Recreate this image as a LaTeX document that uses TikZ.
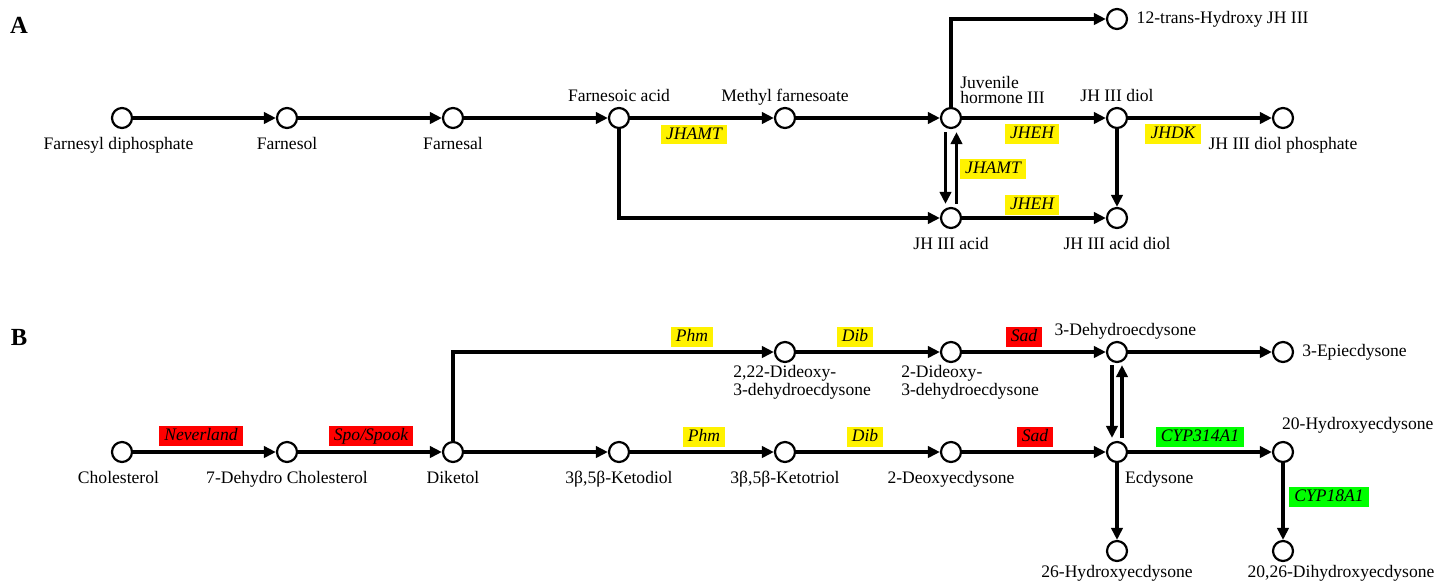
\documentclass[tikz,border=0pt]{standalone}
\usepackage{fontspec}
\setmainfont{Liberation Serif}
\usetikzlibrary{arrows.meta}
\begin{document}
\begin{tikzpicture}[x=0.02cm,y=-0.02cm,
  met/.style={circle,draw,line width=1.25pt,minimum size=0.4cm,inner sep=0pt},
  rxn/.style={line width=1.9pt,-{Triangle[length=6.8pt,width=6.4pt]}},
  txt/.style={font=\fontsize{10}{12}\selectfont},
  lbl/.style={txt,inner sep=1pt,text height=7pt,text depth=2pt},
  twolines/.style={font=\fontsize{10}{#1}\selectfont,align=left,inner sep=0pt},
  namebelow/.style={label={[lbl,yshift=-3.3pt]below:{#1}}},
  nameabove/.style={label={[lbl]above:{#1}}},
  enz/.style={font=\fontsize{10}{12}\selectfont\itshape,inner xsep=3pt,inner ysep=1pt,text height=7.3pt,text depth=1.8pt},
  yenz/.style={enz,fill=yellow},
  renz/.style={enz,fill=red},
  genz/.style={enz,fill=green},
  panel/.style={font=\fontsize{14}{16}\selectfont\bfseries}]

\useasboundingbox (0,0) rectangle (1450,583);

\node[panel] (pa) at (19,25) {A};
\node[panel] (pb) at (19,337) {B};

% juvenile hormone branch
\node[met,label={[lbl,yshift=-3.3pt,xshift=-2pt]below:Farnesyl diphosphate}] (fdp) at (122,118) {};
\node[met,namebelow=Farnesol] (fol) at (287,118) {};
\node[met,namebelow=Farnesal] (fal) at (453,118) {};
\node[met,nameabove=Farnesoic acid] (fa) at (619,118) {};
\node[met,nameabove=Methyl farnesoate] (mf) at (785,118) {};
\node[met] (jh) at (951,118) {};
\node[twolines=8.8pt,anchor=south west] (jhl) at (960,104) {Juvenile\\hormone III};
\node[met,nameabove=JH III diol] (diol) at (1117,118) {};
\node[met,namebelow=JH III diol phosphate] (diolp) at (1283,118) {};
\node[met,label={[lbl,xshift=3.7pt]right:12-trans-Hydroxy JH III}] (hyd) at (1117,19) {};
\node[met,namebelow=JH III acid] (jha) at (951,218) {};
\node[met,namebelow=JH III acid diol] (acdiol) at (1117,218) {};

\node[yenz] (jhamt1) at (694,134.5) {JHAMT};
\node[yenz] (jhamt2) at (993,169) {JHAMT};
\node[yenz] (jheh1) at (1032,134) {JHEH};
\node[yenz] (jheh2) at (1032,205) {JHEH};
\node[yenz] (jhdk) at (1173,134) {JHDK};

\draw[rxn] (fdp) -- (fol);
\draw[rxn] (fol) -- (fal);
\draw[rxn] (fal) -- (fa);
\draw[rxn] (fa) -- (mf);
\draw[rxn] (mf) -- (jh);
\draw[rxn] (fa) |- (jha);
\draw[rxn] (jh) |- (hyd);
\draw[rxn] ([xshift=-0.11cm,yshift=-0.06cm]jh.south) -- ([xshift=-0.11cm,yshift=0.06cm]jha.north);
\draw[rxn] ([xshift=0.11cm,yshift=0.06cm]jha.north) -- ([xshift=0.11cm,yshift=-0.06cm]jh.south);
\draw[rxn] (jh) -- (diol);
\draw[rxn] (diol) -- (diolp);
\draw[rxn] (diol) -- (acdiol);
\draw[rxn] (jha) -- (acdiol);

% ecdysteroid branch
\node[met,label={[lbl,yshift=-3.3pt,xshift=-2pt]below:Cholesterol}] (chol) at (122,452) {};
\node[met,namebelow=7-Dehydro Cholesterol] (dhc) at (287,452) {};
\node[met,namebelow=Diketol] (dik) at (453,452) {};
\node[met,namebelow={3β,5β-Ketodiol}] (kd) at (619,452) {};
\node[met,namebelow={3β,5β-Ketotriol}] (kt) at (785,452) {};
\node[met,namebelow=2-Deoxyecdysone] (deo) at (951,452) {};
\node[met,label={[lbl,anchor=north west,yshift=-3.3pt,xshift=3.4pt]below:Ecdysone}] (ecd) at (1117,452) {};
\node[met,label={[lbl,anchor=south west,yshift=3.2pt,xshift=-1.7pt]above:20-Hydroxyecdysone}] (hyd20) at (1283,452) {};
\node[met,label={[lbl,yshift=-0.8pt]below:26-Hydroxyecdysone}] (hyd26) at (1117,551) {};
\node[met,label={[lbl,yshift=-0.8pt,xshift=33pt]below:{20,26-Dihydroxyecdysone}}] (dihyd) at (1283,551) {};

\node[met] (dd22) at (785,352) {};
\node[twolines=9pt,anchor=north west] (dd22l) at (733,365) {2,22-Dideoxy-\\3-dehydroecdysone};
\node[met] (dd2) at (951,352) {};
\node[twolines=9pt,anchor=north west] (dd2l) at (901,365) {2-Dideoxy-\\3-dehydroecdysone};
\node[met,label={[lbl,xshift=4.8pt]above:3-Dehydroecdysone}] (dh3) at (1117,352) {};
\node[met,label={[lbl,xshift=3.5pt]right:3-Epiecdysone}] (epi) at (1283,352) {};

\node[renz] (nvd) at (201,436) {Neverland};
\node[renz] (spo) at (371,436) {Spo/Spook};
\node[yenz] (phm1) at (692,337) {Phm};
\node[yenz] (dib1) at (855,337) {Dib};
\node[renz] (sad1) at (1024,337) {Sad};
\node[yenz] (phm2) at (704,437) {Phm};
\node[yenz] (dib2) at (865,437) {Dib};
\node[renz] (sad2) at (1035,437) {Sad};
\node[genz] (cyp314) at (1200,437) {CYP314A1};
\node[genz] (cyp18) at (1329,497) {CYP18A1};

\draw[rxn] (chol) -- (dhc);
\draw[rxn] (dhc) -- (dik);
\draw[rxn] (dik) -- (kd);
\draw[rxn] (kd) -- (kt);
\draw[rxn] (kt) -- (deo);
\draw[rxn] (deo) -- (ecd);
\draw[rxn] (ecd) -- (hyd20);
\draw[rxn] (dik) |- (dd22);
\draw[rxn] (dd22) -- (dd2);
\draw[rxn] (dd2) -- (dh3);
\draw[rxn] (dh3) -- (epi);
\draw[rxn] ([xshift=-0.1cm,yshift=-0.04cm]dh3.south) -- ([xshift=-0.1cm,yshift=0.06cm]ecd.north);
\draw[rxn] ([xshift=0.1cm,yshift=0.06cm]ecd.north) -- ([xshift=0.1cm,yshift=-0.04cm]dh3.south);
\draw[rxn] (ecd) -- (hyd26);
\draw[rxn] (hyd20) -- (dihyd);

\end{tikzpicture}
\end{document}
